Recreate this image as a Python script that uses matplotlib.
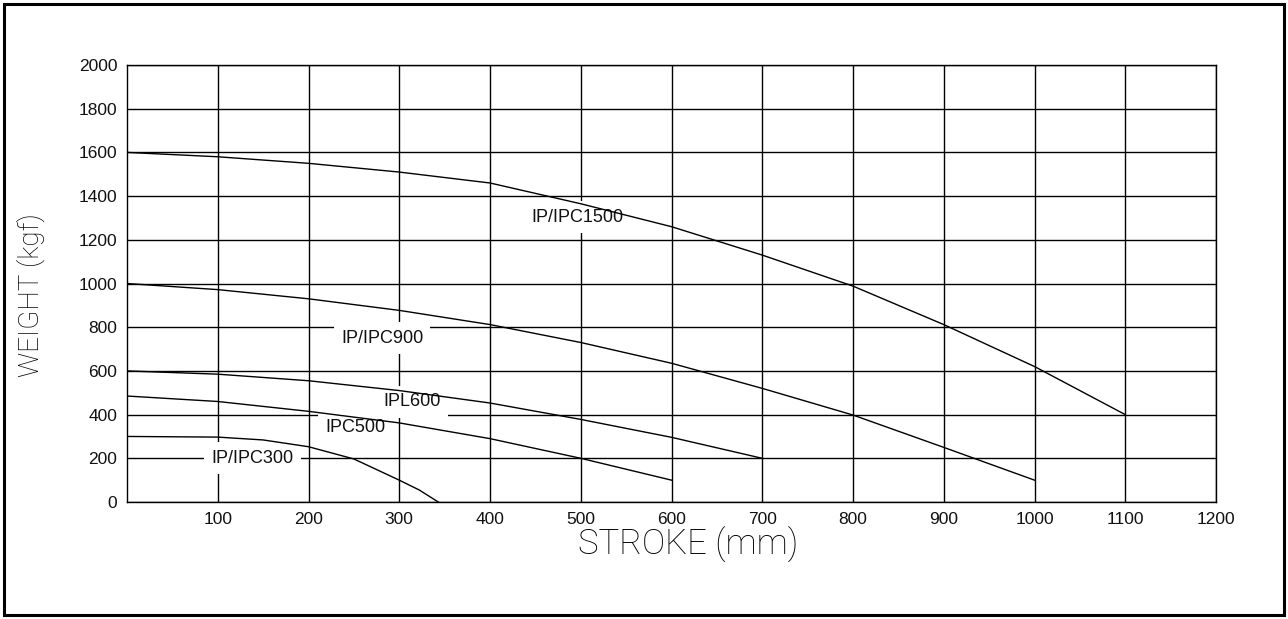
import matplotlib
matplotlib.use("Agg")
import matplotlib.pyplot as plt
from matplotlib.patches import Rectangle

# stroke (mm) vs allowable weight (kgf)
x_1500 = [0, 100, 200, 300, 400, 500, 600, 700, 800, 900, 1000, 1100]
w_1500 = [1600, 1580, 1550, 1510, 1460, 1365, 1260, 1130, 988, 812, 620, 400]

x_900 = [0, 100, 200, 300, 400, 500, 600, 700, 800, 900, 1000]
w_900 = [1000, 972, 930, 877, 812, 730, 635, 520, 398, 250, 100]

x_600 = [0, 100, 200, 300, 400, 500, 600, 700]
w_600 = [600, 585, 555, 510, 453, 378, 296, 200]

x_500 = [0, 100, 200, 300, 400, 500, 600]
w_500 = [485, 460, 415, 362, 290, 200, 100]

x_300 = [0, 100, 150, 200, 250, 300, 322, 343]
w_300 = [300, 297, 284, 253, 197, 100, 55, 0]

curves = [(x_1500, w_1500), (x_900, w_900), (x_600, w_600), (x_500, w_500), (x_300, w_300)]

labels = ["IP/IPC1500", "IP/IPC900", "IPL600", "IPC500", "IP/IPC300"]
label_x = [496, 281, 314, 252, 138]
label_y = [1304, 750, 458, 343, 201]

xticks = list(range(100, 1300, 100))
yticks = list(range(0, 2200, 200))

fig = plt.figure(figsize=(12.88, 6.19), dpi=100)
ax = fig.add_axes([127 / 1288, 1 - 502 / 619, 1089 / 1288, 437 / 619])

for xs, ws in curves:
    ax.plot(xs, ws, color="black", lw=1.0, zorder=4)

for txt, lx, ly in zip(labels, label_x, label_y):
    ax.text(lx, ly, txt, ha="center", va="center", fontsize=13,
            family=["Liberation Sans", "DejaVu Sans"], color="#111111", zorder=3,
            bbox=dict(boxstyle="square,pad=0.4", fc="white", ec="none"))

ax.set_xlim(0, 1200)
ax.set_ylim(0, 2000)
ax.set_xticks(xticks)
ax.set_yticks(yticks)
ax.grid(True, color="black", lw=1.0, zorder=1)
ax.set_axisbelow(True)
ax.tick_params(length=0, pad=7, labelsize=12.5)
for lab in ax.get_xticklabels() + ax.get_yticklabels():
    lab.set_family(["Liberation Sans", "DejaVu Sans"])
    lab.set_color("#111111")
for sp in ax.spines.values():
    sp.set_linewidth(1.0)
    sp.set_color("black")

fig.text(688 / 1288, 1 - 545 / 619, "STROKE (mm)", ha="center", va="center",
         fontsize=25, family=["Roboto", "DejaVu Sans"], fontweight="light", color="black")
fig.text(31 / 1288, 1 - 295 / 619, "WEIGHT (kgf)", ha="center", va="center",
         rotation=90, fontsize=20, family=["Roboto", "DejaVu Sans"], fontweight="light",
         color="black")

# outer drawing frame
fig.patches.append(Rectangle((4 / 1288, 4 / 619), 1280 / 1288, 611 / 619,
                             transform=fig.transFigure, fill=False, ec="black", lw=2.2))

fig.savefig("out.png", dpi=100)
